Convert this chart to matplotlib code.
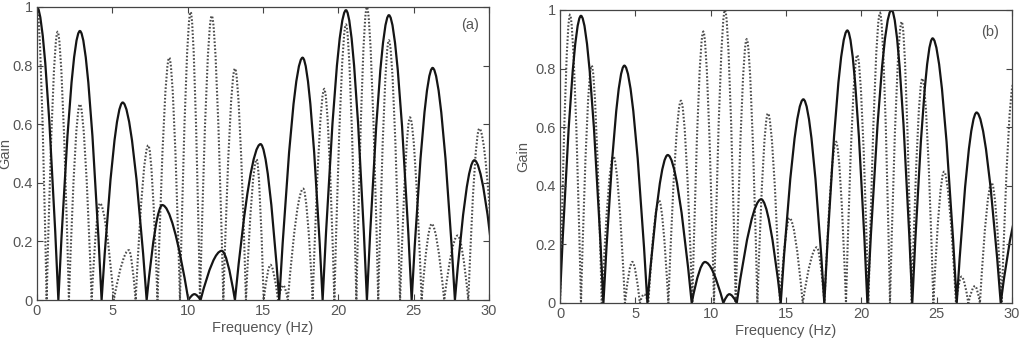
import numpy as np
import matplotlib
matplotlib.use('Agg')
import matplotlib.pyplot as plt
from matplotlib.path import Path
from matplotlib.patches import PathPatch

plt.rcParams['font.family'] = ['Liberation Sans', 'DejaVu Sans']

# ==============================================================================
# Data: each curve is a row of lobes
# (zero crossings, peak positions, peak gains)
#
# panel (a), solid
a_solid_zeros = [-1.42, 1.42, 4.29, 7.28, 10.05, 10.86, 13.14, 16.08, 18.96,
                 21.9, 24.87, 27.74, 30.55]
a_solid_px = [0.0, 2.85, 5.69, 8.32, 10.45, 12.26, 14.84, 17.63, 20.51, 23.36,
              26.26, 29.03]
a_solid_py = [1.0, 0.918, 0.674, 0.324, 0.02, 0.168, 0.532, 0.827, 0.989, 0.972,
              0.792, 0.477]
# panel (a), dotted
a_dot_zeros = [-0.64, 0.64, 2.12, 3.63, 5.1, 6.55, 8.0, 9.49, 10.82, 12.37,
               13.87, 15.05, 16.0, 16.65, 18.3, 19.74, 21.2, 22.65, 24.1, 25.53,
               27.03, 28.63, 30.44]
a_dot_px = [0.0, 1.37, 2.85, 4.18, 6.1, 7.39, 8.78, 10.2, 11.6, 13.14, 14.58,
            15.5, 16.35, 17.67, 19.07, 20.51, 21.9, 23.36, 24.76, 26.2, 27.92,
            29.36]
a_dot_py = [1.0, 0.915, 0.668, 0.33, 0.17, 0.528, 0.827, 0.983, 0.97, 0.79,
            0.48, 0.12, 0.05, 0.38, 0.72, 0.94, 1.0, 0.886, 0.623, 0.26, 0.22,
            0.585]
# panel (b), solid
b_solid_zeros = [-0.02, 2.88, 5.8, 8.74, 10.84, 11.73, 14.65, 17.54, 20.4,
                 23.38, 26.33, 29.25, 32.0]
b_solid_px = [1.39, 4.27, 7.15, 9.62, 11.24, 13.35, 16.15, 19.07, 22.0, 24.73,
              27.65, 30.7]
b_solid_py = [0.98, 0.81, 0.505, 0.14, 0.03, 0.354, 0.695, 0.93, 1.0, 0.903,
              0.65, 0.35]
# panel (b), dotted
b_dot_zeros = [0.0, 1.39, 2.77, 4.31, 5.3, 5.86, 7.19, 8.78, 10.22, 11.66,
               13.1, 14.6, 16.11, 17.55, 18.98, 20.47, 21.9, 23.34, 24.78,
               26.28, 27.1, 27.87, 29.31, 30.9]
b_dot_px = [0.66, 2.1, 3.54, 4.8, 5.58, 6.57, 8.03, 9.51, 10.95, 12.39, 13.8,
            15.24, 17.04, 18.32, 19.73, 21.24, 22.68, 24.05, 25.49, 26.65,
            27.54, 28.65, 30.1]
b_dot_py = [0.983, 0.81, 0.5, 0.14, 0.03, 0.35, 0.69, 0.926, 1.0, 0.9, 0.647,
            0.29, 0.19, 0.55, 0.846, 0.99, 0.96, 0.766, 0.448, 0.09, 0.058,
            0.41, 0.75]

x_ticks = [0, 5, 10, 15, 20, 25, 30]
y_ticks = [0, 0.2, 0.4, 0.6, 0.8, 1]
y_tick_labels = ['0', '0.2', '0.4', '0.6', '0.8', '1']

TEXT_COLOR = '#555555'
LINE_COLOR = '#151515'
DOT_COLOR = '#4a4a4a'


# ==============================================================================
# Lobes as bezier arches
#
def lobe_path(zeros, peak_x, peak_y, k=0.6):
    verts = [(zeros[0], 0.0)]
    codes = [Path.MOVETO]
    for i in range(len(peak_x)):
        a, b = zeros[i], zeros[i + 1]
        px, py = peak_x[i], peak_y[i]
        verts += [(a + k*(px - a), py), (px, py),
                  (b - k*(b - px), py), (b, 0.0)]
        codes += [Path.CURVE3]*4
    return Path(verts, codes)


def draw_panel(ax, solid, dotted, tag, tag_x, tag_y, ylabel_x):
    ax.add_patch(PathPatch(lobe_path(*dotted), fill=False, edgecolor=DOT_COLOR,
                           lw=1.5, linestyle=(0, (0.8, 0.9))))
    ax.add_patch(PathPatch(lobe_path(*solid), fill=False, edgecolor=LINE_COLOR,
                           lw=1.6))
    ax.set_xlim(0, 30)
    ax.set_ylim(0, 1)
    ax.set_xticks(x_ticks)
    ax.set_yticks(y_ticks)
    ax.set_yticklabels(y_tick_labels)
    ax.tick_params(direction='in', top=True, right=True, length=4,
                   labelsize=10.5, labelcolor=TEXT_COLOR, color='#444444',
                   pad=3)
    for spine in ax.spines.values():
        spine.set_color('#444444')
        spine.set_linewidth(0.9)
    ax.set_xlabel('Frequency (Hz)', fontsize=10.5, color=TEXT_COLOR,
                  labelpad=2)
    ax.set_ylabel('Gain', fontsize=10.5, color=TEXT_COLOR)
    ax.yaxis.set_label_coords(ylabel_x, 0.5)
    ax.text(tag_x, tag_y, tag, transform=ax.transAxes, ha='right', va='center',
            fontsize=10.5, color=TEXT_COLOR)


# ==============================================================================
# Main
#
fig = plt.figure(figsize=(10.24, 3.38), dpi=100)
ax_a = fig.add_axes([0.0361, 0.1124, 0.4414, 0.8669])
ax_b = fig.add_axes([0.5469, 0.1036, 0.4414, 0.8669])

draw_panel(ax_a, (a_solid_zeros, a_solid_px, a_solid_py),
           (a_dot_zeros, a_dot_px, a_dot_py), '(a)', 0.978, 0.94, -0.054)
draw_panel(ax_b, (b_solid_zeros, b_solid_px, b_solid_py),
           (b_dot_zeros, b_dot_px, b_dot_py), '(b)', 0.971, 0.925, -0.066)

fig.savefig('out.png', dpi=100)
